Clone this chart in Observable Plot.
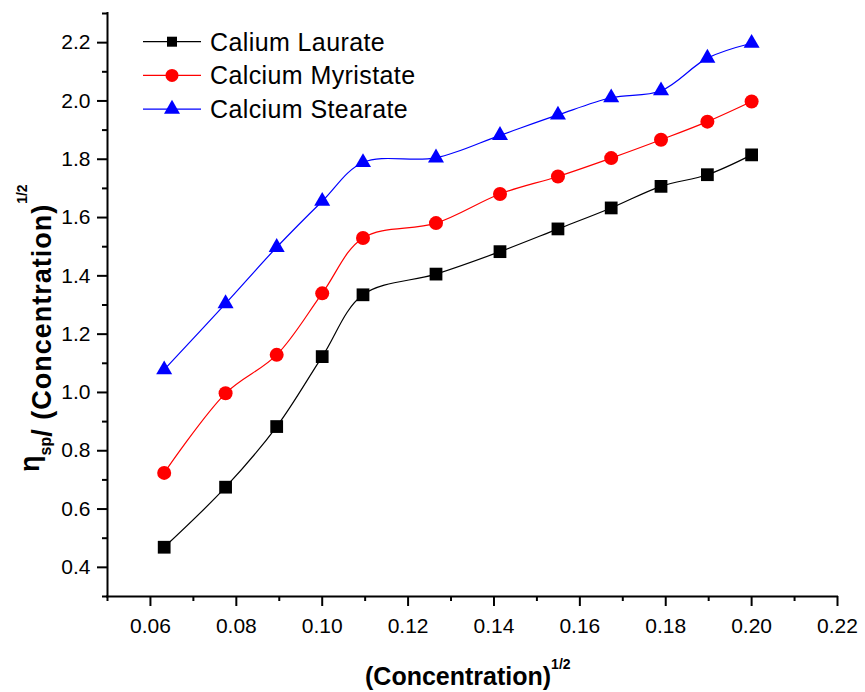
<!DOCTYPE html>
<html>
<head>
<meta charset="utf-8">
<script src="https://cdn.jsdelivr.net/npm/d3@7"></script>
<script src="https://cdn.jsdelivr.net/npm/@observablehq/plot@0.6"></script>
<style>
  html, body { margin: 0; padding: 0; background: #fff; }
  #chart svg { display: block; }
  #chart g[aria-label$="tick label"] { font-size: 21px; }
</style>
</head>
<body>
<div id="chart"></div>
<script>
// ---- data ----
const concSqrt = [0.0632, 0.0775, 0.0894, 0.1000, 0.1095, 0.1265, 0.1414, 0.1549, 0.1673, 0.1789, 0.1897, 0.2000];
const laurate   = [0.469, 0.675, 0.883, 1.123, 1.335, 1.406, 1.483, 1.561, 1.633, 1.707, 1.747, 1.815];
const myristate = [0.724, 0.997, 1.129, 1.340, 1.530, 1.581, 1.681, 1.741, 1.804, 1.867, 1.929, 1.998];
const stearate  = [1.078, 1.305, 1.498, 1.656, 1.789, 1.805, 1.882, 1.952, 2.011, 2.035, 2.147, 2.198];
const seriesNames = ["Calium Laurate", "Calcium Myristate", "Calcium Stearate"];
const xTicks = [0.06, 0.08, 0.10, 0.12, 0.14, 0.16, 0.18, 0.20, 0.22];
const xMinor = [0.05, 0.07, 0.09, 0.11, 0.13, 0.15, 0.17, 0.19, 0.21];
const yTicks = [0.4, 0.6, 0.8, 1.0, 1.2, 1.4, 1.6, 1.8, 2.0, 2.2];
const yMinor = [0.3, 0.5, 0.7, 0.9, 1.1, 1.3, 1.5, 1.7, 1.9, 2.1, 2.3];

const colors = ["#000000", "#ff0000", "#0000ff"];
const symbols = ["square", "circle", "triangle"];
const dotR = [7.2, 7, 5.95];
const legendSize = [100, 133, 111];
const d3Symbols = [d3.symbolSquare, d3.symbolCircle, d3.symbolTriangle];

const seriesValues = [laurate, myristate, stearate];
const tables = seriesValues.map((vals, i) =>
  vals.map((v, j) => ({series: seriesNames[i], x: concSqrt[j], y: v})));

const font = "'Liberation Sans', Arial, Helvetica, sans-serif";

const marks = [
  Plot.ruleY([0.3], {strokeWidth: 2, strokeLinecap: "square"}),
  Plot.ruleX([0.05], {strokeWidth: 2, strokeLinecap: "square"}),
  Plot.axisX({ticks: xTicks, tickSize: 10, tickPadding: 12, strokeWidth: 2,
              tickFormat: d3.format(".2f"), label: null, fontSize: 21}),
  Plot.axisX({ticks: xMinor, tickSize: 5, strokeWidth: 2, tickFormat: () => "", label: null}),
  Plot.axisY({ticks: yTicks, tickSize: 10, tickPadding: 7, strokeWidth: 2,
              tickFormat: d3.format(".1f"), label: null, fontSize: 21}),
  Plot.axisY({ticks: yMinor, tickSize: 5, strokeWidth: 2, tickFormat: () => "", label: null})
];
tables.forEach((t, i) => {
  marks.push(Plot.line(t, {x: "x", y: "y", stroke: colors[i], strokeWidth: 1.2, curve: "catmull-rom"}));
});
tables.forEach((t, i) => {
  marks.push(Plot.dot(t, {x: "x", y: "y", symbol: symbols[i], r: dotR[i], fill: colors[i], stroke: "none"}));
});

const chart = Plot.plot({
  width: 865,
  height: 692,
  marginLeft: 107,
  marginRight: 28,
  marginTop: 13,
  marginBottom: 96,
  x: {domain: [0.05, 0.22]},
  y: {domain: [0.3, 2.3]},
  style: {fontFamily: font, fontSize: "21px", color: "black", background: "white"},
  marks
});
document.getElementById("chart").appendChild(chart);

// ---- legend & axis titles (rich text) ----
const svg = d3.select(chart);
const lg = svg.append("g").attr("font-family", font).attr("text-anchor", "start");
seriesNames.forEach((name, i) => {
  const yy = 41.7 + i * 33.7;
  lg.append("line").attr("x1", 143).attr("x2", 201).attr("y1", yy).attr("y2", yy)
    .attr("stroke", colors[i]).attr("stroke-width", 1.2);
  lg.append("path").attr("d", d3.symbol(d3Symbols[i], legendSize[i])())
    .attr("transform", `translate(172,${yy})`).attr("fill", colors[i]);
  lg.append("text").attr("x", 210).attr("y", yy).attr("dy", "0.36em")
    .attr("font-size", 25).attr("letter-spacing", "0.4px").attr("fill", "black").text(name);
});

// x title
const xt = svg.append("text").attr("font-family", font).attr("font-weight", "bold")
  .attr("text-anchor", "start")
  .attr("x", 365).attr("y", 685).attr("font-size", 25).attr("fill", "black");
xt.append("tspan").text("(Concentration)");
xt.append("tspan").attr("font-size", 14).attr("dy", -16).text("1/2");

// y title
const yt = svg.append("text").attr("font-family", font).attr("font-weight", "bold")
  .attr("text-anchor", "start")
  .attr("transform", "translate(51,472) rotate(-90)").attr("font-size", 27).attr("fill", "black");
yt.append("tspan").attr("dy", -12).text("η");
yt.append("tspan").attr("font-size", 16).attr("dy", 12).text("sp");
yt.append("tspan").attr("letter-spacing", "1px").text("/ (Concentration)");
yt.append("tspan").attr("font-size", 14).attr("dy", -24).text("1/2");
</script>
</body>
</html>
